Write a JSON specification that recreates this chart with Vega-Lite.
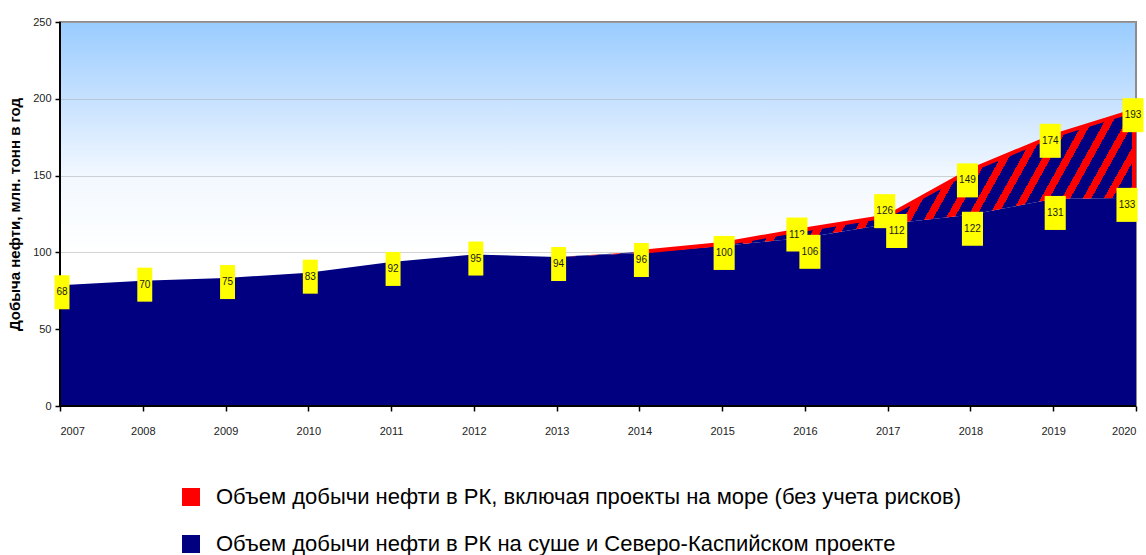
{
  "$schema": "https://vega.github.io/schema/vega-lite/v6.json",
  "width": 1076,
  "height": 384,
  "autosize": {"type": "none"},
  "padding": {"left": 60, "top": 22, "right": 10, "bottom": 149},
  "background": "white",
  "view": {
    "fill": {"gradient": "linear", "x1": 0, "y1": 0, "x2": 0, "y2": 1,
      "stops": [{"offset": 0, "color": "#99CCFF"}, {"offset": 0.2, "color": "#C6E1FF"}, {"offset": 0.4, "color": "#F2F8FF"}, {"offset": 0.6, "color": "#FFFFFF"}, {"offset": 1, "color": "#FFFFFF"}]},
    "stroke": "#8c8c8c",
    "strokeWidth": 2
  },
  "config": {
    "font": "Liberation Sans",
    "axisY": {"tickCount": 5, "grid": true, "gridColor": "#a8a8a8", "gridDash": [1, 1], "gridWidth": 1, "domain": false, "ticks": true, "tickColor": "black", "tickSize": 5, "tickWidth": 1.5, "labelFont": "Liberation Sans", "labelFontSize": 11, "labelColor": "#222", "labelPadding": 4, "titleFont": "Liberation Sans", "titleFontWeight": "bold", "titleFontSize": 15, "titleColor": "black", "titlePadding": 10},
    "axisX": {"grid": false, "domain": false, "ticks": true, "tickColor": "black", "tickSize": 5, "tickWidth": 1.5, "labelFont": "Liberation Sans", "labelFontSize": 11, "labelColor": "#222", "labelPadding": 14},
    "legend": {"orient": "none", "legendX": 120, "legendY": 464, "direction": "vertical", "symbolType": "square", "symbolSize": 324, "labelFont": "Liberation Sans", "labelFontSize": 22, "labelColor": "black", "labelLimit": 1000, "rowPadding": 25, "labelOffset": 14, "padding": 0}
  },
  "data": {"values": [
    {"year": 2007, "onshore": 78.6, "total": 78.6, "onshore_label": 68, "total_label": null},
    {"year": 2008, "onshore": 81.6, "total": 81.6, "onshore_label": 70, "total_label": null},
    {"year": 2009, "onshore": 83.3, "total": 83.3, "onshore_label": 75, "total_label": null},
    {"year": 2010, "onshore": 86.8, "total": 86.8, "onshore_label": 83, "total_label": null},
    {"year": 2011, "onshore": 93.8, "total": 93.8, "onshore_label": 92, "total_label": null},
    {"year": 2012, "onshore": 98.6, "total": 98.6, "onshore_label": 95, "total_label": null},
    {"year": 2013, "onshore": 97.0, "total": 97.0, "onshore_label": 94, "total_label": null},
    {"year": 2014, "onshore": 99.6, "total": 100.3, "onshore_label": 96, "total_label": null},
    {"year": 2015, "onshore": 104.2, "total": 105.5, "onshore_label": 100, "total_label": null},
    {"year": 2016, "onshore": 109.5, "total": 114.9, "onshore_label": 106, "total_label": 112},
    {"year": 2017, "onshore": 118.5, "total": 123.6, "onshore_label": 112, "total_label": 126},
    {"year": 2018, "onshore": 124.5, "total": 153.4, "onshore_label": 122, "total_label": 149},
    {"year": 2019, "onshore": 134.8, "total": 175.9, "onshore_label": 131, "total_label": 174},
    {"year": 2020, "onshore": 135.5, "total": 192.6, "onshore_label": 133, "total_label": 193}
  ]},
  "encoding": {
    "x": {"field": "year", "type": "quantitative", "title": null,
      "scale": {"domain": [2007, 2020], "nice": false, "zero": false},
      "axis": {"values": [2007, 2008, 2009, 2010, 2011, 2012, 2013, 2014, 2015, 2016, 2017, 2018, 2019, 2020], "format": "d"}}
  },
  "layer": [
    {
      "mark": {"type": "area", "opacity": 1, "interpolate": "linear"},
      "encoding": {
        "y": {"field": "onshore", "type": "quantitative", "title": "Добыча нефти, млн. тонн в год", "scale": {"domain": [0, 250], "nice": false}},
        "color": {"datum": "Объем добычи нефти в РК на суше и Северо-Каспийском проекте",
          "scale": {"domain": ["Объем добычи нефти в РК, включая проекты на море (без учета рисков)", "Объем добычи нефти в РК на суше и Северо-Каспийском проекте"], "range": ["#FF0000", "#000080"]},
          "legend": {"title": null, "symbolType": "square", "encode": {"symbols": {"update": {"fill": {"scale": "color", "field": "value"}, "stroke": {"scale": "color", "field": "value"}, "strokeWidth": {"value": 0}, "opacity": {"value": 1}}}}}}
      }
    },
    {
      "mark": {"type": "area", "opacity": 1, "strokeWidth": 0,
        "fill": {"gradient": "linear", "x1": 0, "y1": 0, "x2": 1.12, "y2": 0.1013,
          "stops": [
            {"offset": 0, "color": "#FF0000"},
            {"offset": 0.45692, "color": "#FF0000"}, {"offset": 0.45692, "color": "#000080"}, {"offset": 0.46729, "color": "#000080"}, {"offset": 0.46729, "color": "#FF0000"},
            {"offset": 0.47421, "color": "#FF0000"}, {"offset": 0.47421, "color": "#000080"}, {"offset": 0.48458, "color": "#000080"}, {"offset": 0.48458, "color": "#FF0000"},
            {"offset": 0.4915, "color": "#FF0000"}, {"offset": 0.4915, "color": "#000080"}, {"offset": 0.50187, "color": "#000080"}, {"offset": 0.50187, "color": "#FF0000"},
            {"offset": 0.50879, "color": "#FF0000"}, {"offset": 0.50879, "color": "#000080"}, {"offset": 0.51916, "color": "#000080"}, {"offset": 0.51916, "color": "#FF0000"},
            {"offset": 0.52608, "color": "#FF0000"}, {"offset": 0.52608, "color": "#000080"}, {"offset": 0.53645, "color": "#000080"}, {"offset": 0.53645, "color": "#FF0000"},
            {"offset": 0.54337, "color": "#FF0000"}, {"offset": 0.54337, "color": "#000080"}, {"offset": 0.55374, "color": "#000080"}, {"offset": 0.55374, "color": "#FF0000"},
            {"offset": 0.56066, "color": "#FF0000"}, {"offset": 0.56066, "color": "#000080"}, {"offset": 0.57103, "color": "#000080"}, {"offset": 0.57103, "color": "#FF0000"},
            {"offset": 0.57795, "color": "#FF0000"}, {"offset": 0.57795, "color": "#000080"}, {"offset": 0.58832, "color": "#000080"}, {"offset": 0.58832, "color": "#FF0000"},
            {"offset": 0.59524, "color": "#FF0000"}, {"offset": 0.59524, "color": "#000080"}, {"offset": 0.60561, "color": "#000080"}, {"offset": 0.60561, "color": "#FF0000"},
            {"offset": 0.61253, "color": "#FF0000"}, {"offset": 0.61253, "color": "#000080"}, {"offset": 0.6229, "color": "#000080"}, {"offset": 0.6229, "color": "#FF0000"},
            {"offset": 0.62982, "color": "#FF0000"}, {"offset": 0.62982, "color": "#000080"}, {"offset": 0.64019, "color": "#000080"}, {"offset": 0.64019, "color": "#FF0000"},
            {"offset": 0.64711, "color": "#FF0000"}, {"offset": 0.64711, "color": "#000080"}, {"offset": 0.65748, "color": "#000080"}, {"offset": 0.65748, "color": "#FF0000"},
            {"offset": 0.6644, "color": "#FF0000"}, {"offset": 0.6644, "color": "#000080"}, {"offset": 0.67477, "color": "#000080"}, {"offset": 0.67477, "color": "#FF0000"},
            {"offset": 0.68169, "color": "#FF0000"}, {"offset": 0.68169, "color": "#000080"}, {"offset": 0.69206, "color": "#000080"}, {"offset": 0.69206, "color": "#FF0000"},
            {"offset": 0.69898, "color": "#FF0000"}, {"offset": 0.69898, "color": "#000080"}, {"offset": 0.70935, "color": "#000080"}, {"offset": 0.70935, "color": "#FF0000"},
            {"offset": 0.71627, "color": "#FF0000"}, {"offset": 0.71627, "color": "#000080"}, {"offset": 0.72664, "color": "#000080"}, {"offset": 0.72664, "color": "#FF0000"},
            {"offset": 0.73356, "color": "#FF0000"}, {"offset": 0.73356, "color": "#000080"}, {"offset": 0.74393, "color": "#000080"}, {"offset": 0.74393, "color": "#FF0000"},
            {"offset": 0.75085, "color": "#FF0000"}, {"offset": 0.75085, "color": "#000080"}, {"offset": 0.76122, "color": "#000080"}, {"offset": 0.76122, "color": "#FF0000"},
            {"offset": 0.76814, "color": "#FF0000"}, {"offset": 0.76814, "color": "#000080"}, {"offset": 0.77851, "color": "#000080"}, {"offset": 0.77851, "color": "#FF0000"},
            {"offset": 0.78543, "color": "#FF0000"}, {"offset": 0.78543, "color": "#000080"}, {"offset": 0.7958, "color": "#000080"}, {"offset": 0.7958, "color": "#FF0000"},
            {"offset": 0.80272, "color": "#FF0000"}, {"offset": 0.80272, "color": "#000080"}, {"offset": 0.81309, "color": "#000080"}, {"offset": 0.81309, "color": "#FF0000"},
            {"offset": 0.82001, "color": "#FF0000"}, {"offset": 0.82001, "color": "#000080"}, {"offset": 0.83038, "color": "#000080"}, {"offset": 0.83038, "color": "#FF0000"},
            {"offset": 0.8373, "color": "#FF0000"}, {"offset": 0.8373, "color": "#000080"}, {"offset": 0.84767, "color": "#000080"}, {"offset": 0.84767, "color": "#FF0000"},
            {"offset": 0.85459, "color": "#FF0000"}, {"offset": 0.85459, "color": "#000080"}, {"offset": 0.86496, "color": "#000080"}, {"offset": 0.86496, "color": "#FF0000"},
            {"offset": 0.87188, "color": "#FF0000"}, {"offset": 0.87188, "color": "#000080"}, {"offset": 0.88225, "color": "#000080"}, {"offset": 0.88225, "color": "#FF0000"},
            {"offset": 0.88917, "color": "#FF0000"}, {"offset": 0.88917, "color": "#000080"}, {"offset": 0.89954, "color": "#000080"}, {"offset": 0.89954, "color": "#FF0000"},
            {"offset": 0.90646, "color": "#FF0000"}, {"offset": 0.90646, "color": "#000080"}, {"offset": 0.91683, "color": "#000080"}, {"offset": 0.91683, "color": "#FF0000"},
            {"offset": 0.92375, "color": "#FF0000"}, {"offset": 0.92375, "color": "#000080"}, {"offset": 0.93412, "color": "#000080"}, {"offset": 0.93412, "color": "#FF0000"},
            {"offset": 0.94104, "color": "#FF0000"}, {"offset": 0.94104, "color": "#000080"}, {"offset": 0.95141, "color": "#000080"}, {"offset": 0.95141, "color": "#FF0000"},
            {"offset": 0.95833, "color": "#FF0000"}, {"offset": 0.95833, "color": "#000080"}, {"offset": 0.9687, "color": "#000080"}, {"offset": 0.9687, "color": "#FF0000"},
            {"offset": 0.97562, "color": "#FF0000"}, {"offset": 0.97562, "color": "#000080"}, {"offset": 0.98599, "color": "#000080"}, {"offset": 0.98599, "color": "#FF0000"},
            {"offset": 0.99291, "color": "#FF0000"}, {"offset": 0.99291, "color": "#000080"}, {"offset": 1, "color": "#000080"}
          ]}},
      "encoding": {
        "y": {"field": "onshore", "type": "quantitative", "title": "Добыча нефти, млн. тонн в год", "scale": {"domain": [0, 250], "nice": false}},
        "y2": {"field": "total"}
      }
    },
    {
      "transform": [{"filter": "datum.year >= 2014"}],
      "mark": {"type": "line", "strokeWidth": 4, "strokeCap": "butt", "strokeJoin": "miter"},
      "encoding": {
        "y": {"field": "total", "type": "quantitative", "title": "Добыча нефти, млн. тонн в год", "scale": {"domain": [0, 250], "nice": false}},
        "color": {"datum": "Объем добычи нефти в РК, включая проекты на море (без учета рисков)",
          "legend": {"title": null, "symbolType": "square", "encode": {"symbols": {"update": {"fill": {"scale": "color", "field": "value"}, "stroke": {"scale": "color", "field": "value"}, "strokeWidth": {"value": 0}, "opacity": {"value": 1}}}}}}
      }
    },
    {
      "transform": [{"filter": "datum.year == 2020"}],
      "mark": {"type": "rule", "color": "#FF0000", "strokeWidth": 4, "xOffset": -2},
      "encoding": {
        "y": {"field": "onshore", "type": "quantitative", "title": "Добыча нефти, млн. тонн в год", "scale": {"domain": [0, 250], "nice": false}},
        "y2": {"field": "total"}
      }
    },
    {
      "mark": {"type": "rule", "color": "black", "strokeWidth": 2},
      "encoding": {"x": {"datum": 2007}, "y": {"datum": 0}, "y2": {"datum": 250}}
    },
    {
      "mark": {"type": "rule", "color": "black", "strokeWidth": 2},
      "encoding": {"x": {"datum": 2007}, "x2": {"datum": 2020}, "y": {"datum": 0}}
    },
    {
      "transform": [{"filter": "isValid(datum.total_label)"}],
      "mark": {"type": "point", "filled": true, "fill": "#FFFF00", "opacity": 1, "strokeWidth": 0, "size": 1156,
        "yOffset": {"expr": "datum.year == 2017 ? -5 : (datum.year == 2018 ? 10 : 5)"},
        "xOffset": {"expr": "datum.year == 2016 ? -8 : -3"}},
      "encoding": {
        "y": {"field": "total", "type": "quantitative", "title": "Добыча нефти, млн. тонн в год", "scale": {"domain": [0, 250], "nice": false}},
        "shape": {"value": "M-0.62,-1H0.62V1H-0.62Z"}
      }
    },
    {
      "transform": [{"filter": "isValid(datum.total_label)"}],
      "mark": {"type": "text", "font": "Liberation Sans", "fontSize": 10, "color": "#1a1a1a", "align": "center", "baseline": "middle",
        "yOffset": {"expr": "datum.year == 2017 ? -5 : (datum.year == 2018 ? 10 : 5)"},
        "xOffset": {"expr": "datum.year == 2016 ? -8 : -3"}},
      "encoding": {
        "y": {"field": "total", "type": "quantitative", "title": "Добыча нефти, млн. тонн в год", "scale": {"domain": [0, 250], "nice": false}},
        "text": {"field": "total_label"}
      }
    },
    {
      "mark": {"type": "point", "filled": true, "fill": "#FFFF00", "opacity": 1, "strokeWidth": 0, "size": 1156,
        "yOffset": {"expr": "indexof([2016, 2018, 2019], datum.year) >= 0 ? 14 : (indexof([2008, 2009, 2010, 2012], datum.year) >= 0 ? 4 : 7)"},
        "xOffset": {"expr": "datum.year == 2020 ? -9 : (datum.year == 2017 ? 9 : (datum.year == 2016 ? 5 : 2))"}},
      "encoding": {
        "y": {"field": "onshore", "type": "quantitative", "title": "Добыча нефти, млн. тонн в год", "scale": {"domain": [0, 250], "nice": false}},
        "shape": {"condition": {"test": "datum.onshore_label >= 100", "value": "M-0.62,-1H0.62V1H-0.62Z"}, "value": "M-0.44,-1H0.44V1H-0.44Z"}
      }
    },
    {
      "mark": {"type": "text", "font": "Liberation Sans", "fontSize": 10, "color": "#1a1a1a", "align": "center", "baseline": "middle",
        "yOffset": {"expr": "indexof([2016, 2018, 2019], datum.year) >= 0 ? 14 : (indexof([2008, 2009, 2010, 2012], datum.year) >= 0 ? 4 : 7)"},
        "xOffset": {"expr": "datum.year == 2020 ? -9 : (datum.year == 2017 ? 9 : (datum.year == 2016 ? 5 : 2))"}},
      "encoding": {
        "y": {"field": "onshore", "type": "quantitative", "title": "Добыча нефти, млн. тонн в год", "scale": {"domain": [0, 250], "nice": false}},
        "text": {"field": "onshore_label"}
      }
    }
  ]
}
